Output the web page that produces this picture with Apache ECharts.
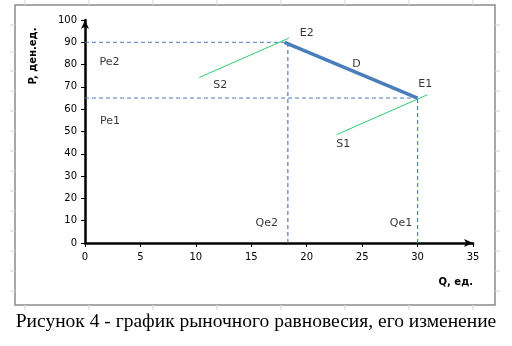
<!DOCTYPE html>
<html>
<head>
<meta charset="utf-8">
<script src="https://cdn.jsdelivr.net/npm/echarts@6/dist/echarts.min.js"></script>
<style>
  html, body { margin: 0; padding: 0; background: #fff; }
  #chart { width: 512px; height: 346px; }
</style>
</head>
<body>
<div id="chart"></div>
<script>
// Market equilibrium: demand segment D and two supply curves S1, S2
const demandD  = [[18, 90], [30, 65]];
const supplyS1 = [[22.7, 48.6], [30.9, 66.5]];
const supplyS2 = [[10.3, 74.2], [18.4, 91.9]];

// Equilibrium guide levels (quantity, price)
const equilibria = [
  { q: 18.3, p: 90 },   // E2
  { q: 30,   p: 65 }    // E1
];

// Text annotations anchored in data space: [text, Q, P]
const notes = [
  ['E2', 20.0, 94.0],
  ['D',  24.5, 80.1],
  ['E1', 30.7, 71.2],
  ['S1', 23.3, 44.3],
  ['S2', 12.2, 70.7],
  ['Pe2', 2.2, 81.3],
  ['Pe1', 2.25, 54.6],
  ['Qe2', 16.4, 8.8],
  ['Qe1', 28.5, 8.8]
];

const qMin = 0, qMax = 35, qStep = 5;
const pMin = 0, pMax = 100, pStep = 10;

const guideColor = '#4a7ebb';
const guideSeries = [];
equilibria.forEach(e => {
  guideSeries.push({
    type: 'line', data: [[0, e.p], [e.q, e.p]], symbol: 'none', silent: true,
    lineStyle: { color: guideColor, width: 1, type: [4, 3] }, z: 2
  });
  guideSeries.push({
    type: 'line', data: [[e.q, 0], [e.q, e.p]], symbol: 'none', silent: true,
    lineStyle: { color: guideColor, width: 1.2, type: [4, 3] }, z: 2
  });
});

// Faint spreadsheet cell marks around the frame
const cellMarks = [];
const cols = [25, 89, 153, 217, 281, 345, 409, 473];
cols.forEach(x => {
  cellMarks.push({ type: 'line', shape: { x1: x, y1: 0, x2: x, y2: 5 }, style: { stroke: '#d8d8d8', lineWidth: 1 } });
  cellMarks.push({ type: 'line', shape: { x1: x, y1: 305, x2: x, y2: 310 }, style: { stroke: '#d8d8d8', lineWidth: 1 } });
});
const rows = [25, 52, 71, 91, 111, 131, 151, 171, 191, 211, 231, 251, 271, 291];
rows.forEach(y => {
  cellMarks.push({ type: 'line', shape: { x1: 10, y1: y, x2: 15, y2: y }, style: { stroke: '#d8d8d8', lineWidth: 1 } });
  cellMarks.push({ type: 'line', shape: { x1: 495, y1: y, x2: 500, y2: y }, style: { stroke: '#d8d8d8', lineWidth: 1 } });
});

const chart = echarts.init(document.getElementById('chart'), null, { renderer: 'canvas' });

chart.setOption({
  backgroundColor: '#fff',
  animation: false,
  grid: { left: 85, right: 39, top: 20, bottom: 103, containLabel: false },
  xAxis: {
    type: 'value', min: qMin, max: qMax, interval: qStep,
    name: 'Q, ед.', nameLocation: 'end', nameGap: 0,
    nameTextStyle: { fontFamily: 'DejaVu Sans', fontSize: 10, fontWeight: 'bold', color: '#000',
      align: 'right', verticalAlign: 'top', padding: [34, 0, 0, 0] },
    axisLine: { show: true, lineStyle: { color: '#000', width: 2.5 }, symbol: ['none', 'arrow'], symbolSize: [6, 9] },
    axisTick: { show: true, length: 4, lineStyle: { color: '#000', width: 1 } },
    axisLabel: { fontFamily: 'DejaVu Sans', fontSize: 10, color: '#000', margin: 9 },
    splitLine: { show: false }
  },
  yAxis: {
    type: 'value', min: pMin, max: pMax, interval: pStep,
    axisLine: { show: true, lineStyle: { color: '#000', width: 2.5 }, symbol: ['none', 'arrow'], symbolSize: [6, 9] },
    axisTick: { show: true, length: 4, lineStyle: { color: '#000', width: 1 } },
    axisLabel: { fontFamily: 'DejaVu Sans', fontSize: 10, color: '#000', margin: 8 },
    splitLine: { show: false }
  },
  series: [
    ...guideSeries,
    { type: 'line', data: supplyS1, symbol: 'none', lineStyle: { color: '#2ecc71', width: 1 }, z: 3 },
    { type: 'line', data: supplyS2, symbol: 'none', lineStyle: { color: '#2ecc71', width: 1 }, z: 3 },
    { type: 'line', data: demandD, symbol: 'none', lineStyle: { color: '#4a7ebb', width: 3.5 }, z: 4 },
    {
      type: 'scatter', symbolSize: 0, silent: true, z: 5,
      data: notes.map(n => ({ name: n[0], value: [n[1], n[2]] })),
      label: { show: true, position: 'inside', formatter: '{b}',
        fontFamily: 'DejaVu Sans', fontSize: 11, color: '#000' }
    }
  ],
  graphic: [
    { type: 'rect', shape: { x: 15, y: 5, width: 480, height: 300 }, style: { fill: 'none', stroke: '#8c8c8c', lineWidth: 1.5 }, z: -1 },
    ...cellMarks,
    {
      // vertical axis title
      type: 'text', x: 33, y: 56, rotation: Math.PI / 2,
      style: { text: 'P, ден.ед.', font: 'bold 10px "DejaVu Sans"', fill: '#000',
        align: 'center', verticalAlign: 'middle' }
    },
    {
      type: 'text', left: 'center', top: 312,
      style: { text: 'Рисунок 4 - график рыночного равновесия, его изменение',
        font: '19.5px "Liberation Serif"', fill: '#000' }
    }
  ]
});
</script>
</body>
</html>
